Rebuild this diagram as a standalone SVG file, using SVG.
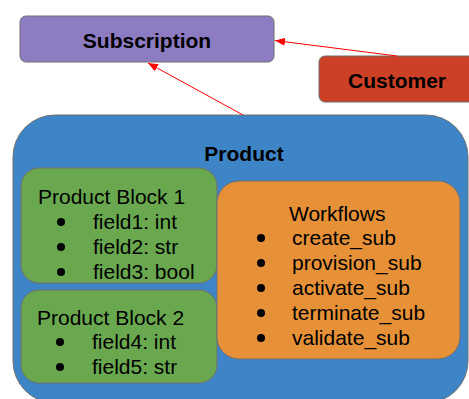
<svg xmlns="http://www.w3.org/2000/svg" width="469" height="399" viewBox="0 0 469 399">
  <defs>
    <marker id="arrow" viewBox="0 0 10 10" refX="10" refY="5" markerWidth="10" markerHeight="10" markerUnits="userSpaceOnUse" orient="auto">
      <path d="M0,1 L10,5 L0,9 Z" fill="#ff0000"/>
    </marker>
  </defs>
  <style>
    .box { stroke: #6f6f6f; stroke-width: 1; }
    .title { font-family: "Liberation Sans", Arial, sans-serif; font-size: 21px; font-weight: bold; fill: #000; }
    .txt { font-family: "Liberation Sans", Arial, sans-serif; font-size: 21px; fill: #000; }
    .edge { stroke: #ff0000; stroke-width: 1; fill: none; }
  </style>
  <rect width="469" height="399" fill="#ffffff"/>

  <g id="subscription">
    <rect class="box" x="20" y="16" width="254" height="46" rx="6" fill="#8e7cc3"/>
    <text class="title" x="147" y="48" text-anchor="middle">Subscription</text>
  </g>

  <g id="customer">
    <rect class="box" x="319" y="56" width="160" height="46" rx="6" fill="#cc4125"/>
    <text class="title" x="397" y="88" text-anchor="middle">Customer</text>
  </g>

  <g id="product">
    <rect class="box" x="13" y="115" width="455" height="288" rx="42" fill="#3d85c6"/>
    <text class="title" x="244" y="161" text-anchor="middle">Product</text>
  </g>

  <g id="product-block-1">
    <rect class="box" x="21" y="168" width="196" height="115" rx="18" fill="#6aa84f"/>
    <text class="txt" x="38" y="204">Product Block 1</text>
    <circle cx="61" cy="222" r="4"/>
    <text class="txt" x="93" y="229">field1: int</text>
    <circle cx="61" cy="247" r="4"/>
    <text class="txt" x="93" y="254">field2: str</text>
    <circle cx="61" cy="272" r="4"/>
    <text class="txt" x="93" y="279">field3: bool</text>
  </g>

  <g id="product-block-2">
    <rect class="box" x="21" y="290" width="196" height="93" rx="18" fill="#6aa84f"/>
    <text class="txt" x="37" y="325">Product Block 2</text>
    <circle cx="60" cy="342" r="4"/>
    <text class="txt" x="92" y="349">field4: int</text>
    <circle cx="60" cy="367" r="4"/>
    <text class="txt" x="92" y="374">field5: str</text>
  </g>

  <g id="workflows">
    <rect class="box" x="217" y="181" width="243" height="178" rx="22" fill="#e69138"/>
    <text class="txt" x="289" y="221">Workflows</text>
    <circle cx="261" cy="238" r="4"/>
    <text class="txt" x="292" y="245">create_sub</text>
    <circle cx="261" cy="263" r="4"/>
    <text class="txt" x="292" y="270">provision_sub</text>
    <circle cx="261" cy="288" r="4"/>
    <text class="txt" x="292" y="295">activate_sub</text>
    <circle cx="261" cy="313" r="4"/>
    <text class="txt" x="292" y="320">terminate_sub</text>
    <circle cx="261" cy="338" r="4"/>
    <text class="txt" x="292" y="345">validate_sub</text>
  </g>

  <g id="connectors">
    <line class="edge" x1="397" y1="56" x2="275" y2="40.5" marker-end="url(#arrow)"/>
    <line class="edge" x1="243" y1="115" x2="148" y2="63" marker-end="url(#arrow)"/>
  </g>
</svg>
